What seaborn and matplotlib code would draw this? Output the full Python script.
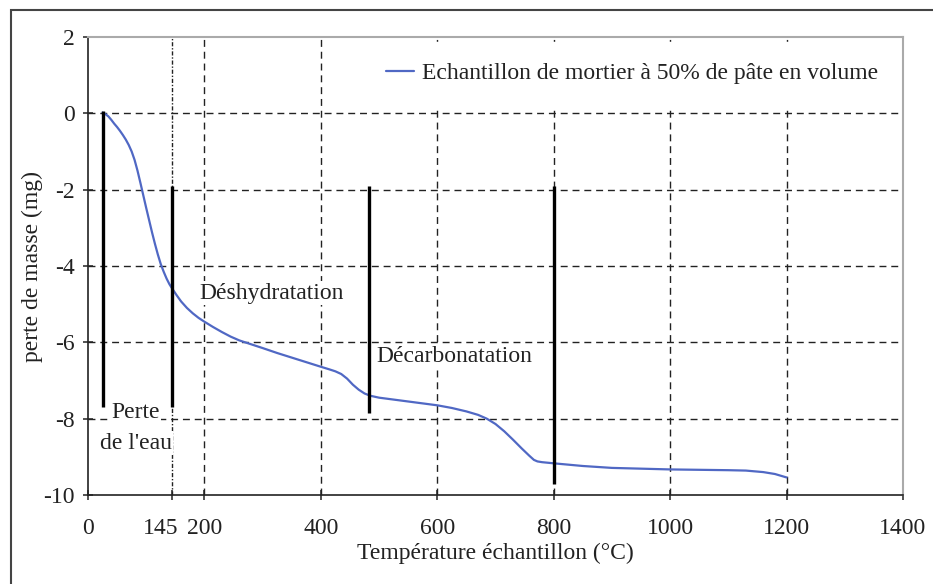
import matplotlib
matplotlib.use("Agg")
import matplotlib.pyplot as plt
import matplotlib.transforms as mtransforms
from matplotlib.patches import Rectangle
import seaborn as sns
import pandas as pd

# Thermogravimetric curve: sample temperature (°C) vs mass loss (mg)
temperature = [25, 30, 35, 40, 45, 50, 55, 60, 65, 70, 75, 80, 85, 90, 95, 100,
               105, 110, 115, 120, 125, 130, 135, 140, 145, 152, 160, 170, 180,
               190, 200, 215, 230, 245, 260, 280, 300, 325, 350, 375, 400, 415,
               425, 435, 445, 455, 465, 475, 485, 500, 525, 550, 575, 600, 625,
               650, 670, 685, 700, 715, 730, 745, 758, 766, 772, 780, 800, 850,
               900, 950, 1000, 1050, 1100, 1130, 1160, 1180, 1200]
mass_loss = [0.02, -0.02, -0.08, -0.17, -0.27, -0.36, -0.46, -0.57, -0.69, -0.83,
             -1.00, -1.22, -1.50, -1.82, -2.15, -2.48, -2.80, -3.12, -3.42, -3.70,
             -3.95, -4.15, -4.33, -4.48, -4.60, -4.76, -4.93, -5.10, -5.24, -5.36,
             -5.46, -5.60, -5.73, -5.85, -5.95, -6.05, -6.15, -6.28, -6.40, -6.52,
             -6.64, -6.71, -6.76, -6.83, -6.95, -7.11, -7.24, -7.34, -7.40, -7.45,
             -7.50, -7.55, -7.60, -7.65, -7.72, -7.81, -7.90, -8.00, -8.14, -8.33,
             -8.55, -8.78, -8.97, -9.08, -9.12, -9.14, -9.17, -9.24, -9.29, -9.31,
             -9.33, -9.34, -9.35, -9.36, -9.40, -9.45, -9.54]
series_name = "Echantillon de mortier à 50% de pâte en volume"

# Phase boundaries (vertical markers)
marker_T = [26, 145, 482, 800]
marker_top = [0.05, -1.9, -1.9, -1.9]
marker_bottom = [-7.7, -7.7, -7.85, -9.7]

# Phase annotations
phase_labels = ["Perte", "de l'eau", "Déshydratation", "Décarbonatation"]
phase_x = [82, 82, 192, 495]
phase_y = [-7.85, -8.64, -4.71, -6.38]
phase_ha = ["center", "center", "left", "left"]

x_ticks = [0, 145, 200, 400, 600, 800, 1000, 1200, 1400]
y_ticks = [2, 0, -2, -4, -6, -8, -10]

df = pd.DataFrame({"T": temperature, "m": mass_loss})

sns.set_theme(style="white")
plt.rcParams["font.family"] = ["Liberation Serif", "DejaVu Serif"]
FS = 17
INK = "#222222"

fig = plt.figure(figsize=(9.33, 5.84), dpi=100)
ax = fig.add_axes([88 / 933, 1 - 495 / 584, 815 / 933, 458 / 584])

sns.lineplot(data=df, x="T", y="m", ax=ax, color="#5068c4", lw=1.6,
             label=series_name, zorder=4)

ax.vlines(marker_T, marker_bottom, marker_top, colors="black", lw=2.4, zorder=5)

for txt, x, y, ha in zip(phase_labels, phase_x, phase_y, phase_ha):
    ax.text(x, y, txt, ha=ha, va="center", fontsize=FS, color=INK, zorder=6,
            bbox=dict(facecolor="white", edgecolor="none", pad=1.0))

ax.set_xlim(0, 1400)
ax.set_ylim(-10, 2)
ax.set_xticks(x_ticks)
ax.set_xticklabels([str(t) for t in x_ticks])
ax.set_yticks(y_ticks)
ax.set_yticklabels([str(t) for t in y_ticks])

# Grid: dashed black, the 145 °C line finer dash-dot
ax.grid(True, color=INK, lw=1.0, linestyle=(0, (5, 3.5)), zorder=1)
xg = ax.xaxis.get_gridlines()
for i, t in enumerate(x_ticks):
    if t in (0, 1400):
        xg[i].set_visible(False)
    if t == 145:
        xg[i].set_linestyle((0, (3, 1.3, 1, 1.3)))
        xg[i].set_linewidth(1.0)
yg = ax.yaxis.get_gridlines()
for i, t in enumerate(y_ticks):
    if t in (2, -10):
        yg[i].set_visible(False)

for side in ("left", "bottom"):
    ax.spines[side].set_color(INK)
    ax.spines[side].set_linewidth(1.2)
for side in ("top", "right"):
    ax.spines[side].set_color("#aaaaaa")
    ax.spines[side].set_linewidth(1.5)

ax.tick_params(axis="x", direction="inout", length=7, width=1.1, pad=13,
               labelsize=FS, colors=INK, bottom=True)
ax.tick_params(axis="y", direction="inout", length=7, width=1.1, pad=6,
               labelsize=FS, colors=INK, left=True)

# Nudge the "145" label left so it clears "200"
shift = mtransforms.ScaledTranslation(-12 / 100, 0, fig.dpi_scale_trans)
for i, t in enumerate(x_ticks):
    if t == 145:
        lab = ax.get_xticklabels()[i]
        lab.set_transform(lab.get_transform() + shift)

ax.set_xlabel("Température échantillon (°C)", fontsize=FS, color=INK, labelpad=3)
ax.set_ylabel("perte de masse (mg)", fontsize=FS, color=INK, labelpad=0)

leg = ax.legend(loc="upper right", bbox_to_anchor=(0.995, 0.99), frameon=True,
                fontsize=FS, handlelength=1.2, handletextpad=0.3,
                borderpad=0.9, borderaxespad=0.0)
leg.get_frame().set_facecolor("white")
leg.get_frame().set_edgecolor("white")
leg.get_frame().set_alpha(1.0)
leg.set_zorder(7)
for t in leg.get_texts():
    t.set_color(INK)

# Outer frame around the figure
fig.patches.append(Rectangle((11 / 933, -0.1), 1.2, 1.1 - 10 / 584,
                             transform=fig.transFigure, fill=False,
                             edgecolor="#444444", lw=1.5, clip_on=False))

fig.savefig("out.png", dpi=100)
